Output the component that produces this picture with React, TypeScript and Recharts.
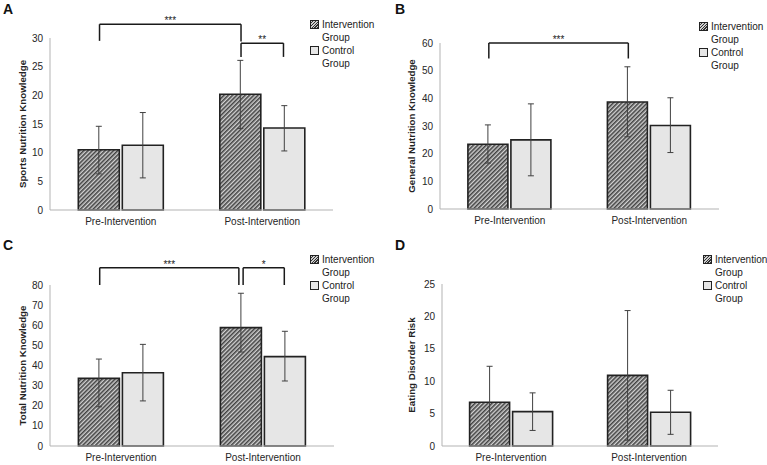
import React from 'react'
import { BarChart, Bar, XAxis, YAxis, ErrorBar, ReferenceLine } from 'recharts'

const categories = ['Pre-Intervention', 'Post-Intervention']
const seriesNames = ['Intervention Group', 'Control Group']

// A - sports nutrition knowledge
const sportsIntervention = [10.5, 20.2]
const sportsInterventionErr = [[4.2, 4.1], [6.0, 5.9]]
const sportsControl = [11.3, 14.3]
const sportsControlErr = [[5.7, 5.7], [4.0, 3.9]]
const sportsTicks = [0, 5, 10, 15, 20, 25, 30]

// B - general nutrition knowledge
const generalIntervention = [23.4, 38.7]
const generalInterventionErr = [[6.8, 7.0], [12.6, 12.7]]
const generalControl = [25.0, 30.2]
const generalControlErr = [[13.0, 13.0], [9.8, 10.0]]
const generalTicks = [0, 10, 20, 30, 40, 50, 60]

// C - total nutrition knowledge
const totalIntervention = [33.6, 58.8]
const totalInterventionErr = [[14.1, 9.6], [12.1, 17.1]]
const totalControl = [36.4, 44.4]
const totalControlErr = [[14.0, 14.1], [12.1, 12.6]]
const totalTicks = [0, 10, 20, 30, 40, 50, 60, 70, 80]

// D - eating disorder risk
const edIntervention = [6.75, 10.9]
const edInterventionErr = [[5.55, 5.55], [10.0, 10.0]]
const edControl = [5.3, 5.2]
const edControlErr = [[2.9, 2.9], [3.4, 3.4]]
const edTicks = [0, 5, 10, 15, 20, 25]

// significance brackets: [category, series] ends, heights in axis units
const sportsBrackets = [
  { from: [0, 0], to: [1, 0], top: 32.4, leg1: 29.5, leg2: 29.4, label: '***' },
  { from: [1, 0], to: [1, 1], top: 29.1, leg1: 26.7, leg2: 26.7, label: '**' },
]
const generalBrackets = [
  { from: [0, 0], to: [1, 0], top: 60, leg1: 54.4, leg2: 54.4, label: '***' },
]
const totalBrackets = [
  { from: [0, 0], to: [1, 0], top: 88.6, leg1: 80, leg2: 80, label: '***', nudge2: -0.02 },
  { from: [1, 0], to: [1, 1], top: 88.6, leg1: 80, leg2: 80, label: '*', nudge1: 0.01 },
]

const FONT = "'Liberation Sans', Arial, sans-serif"
const CAT_GAP = 0.2
const INT_CENTER = CAT_GAP + (1 - 2 * CAT_GAP) / 4

// position along a hidden numeric axis running 0..2 across the two categories
const slot = (end: number[], nudge = 0) => end[0] + (end[1] === 0 ? INT_CENTER : 1 - INT_CENTER) + nudge

const panels = [
  {
    letter: 'A', yLabel: 'Sports Nutrition Knowledge',
    int: sportsIntervention, intErr: sportsInterventionErr, ctl: sportsControl, ctlErr: sportsControlErr,
    ticks: sportsTicks, brackets: sportsBrackets,
    left: 0, top: 0, width: 380, height: 230,
    margin: { top: 38, right: 47, bottom: 0, left: 0 }, yWidth: 50, xHeight: 20, labelOffset: 23,
    letterPos: [3, 1], legendPos: [310, 24],
  },
  {
    letter: 'B', yLabel: 'General Nutrition Knowledge',
    int: generalIntervention, intErr: generalInterventionErr, ctl: generalControl, ctlErr: generalControlErr,
    ticks: generalTicks, brackets: generalBrackets,
    left: 380, top: 0, width: 387, height: 230,
    margin: { top: 43, right: 48, bottom: 0, left: 0 }, yWidth: 60, xHeight: 21, labelOffset: 32,
    letterPos: [15, 1], legendPos: [319, 26],
  },
  {
    letter: 'C', yLabel: 'Total Nutrition Knowledge',
    int: totalIntervention, intErr: totalInterventionErr, ctl: totalControl, ctlErr: totalControlErr,
    ticks: totalTicks, brackets: totalBrackets,
    left: 0, top: 230, width: 380, height: 235,
    margin: { top: 55, right: 46, bottom: 0, left: 0 }, yWidth: 50, xHeight: 19, labelOffset: 23,
    letterPos: [3, 7], legendPos: [310, 29],
  },
  {
    letter: 'D', yLabel: 'Eating Disorder Risk',
    int: edIntervention, intErr: edInterventionErr, ctl: edControl, ctlErr: edControlErr,
    ticks: edTicks, brackets: [],
    left: 380, top: 230, width: 387, height: 235,
    margin: { top: 54, right: 49, bottom: 0, left: 0 }, yWidth: 62, xHeight: 19, labelOffset: 32,
    letterPos: [15, 7], legendPos: [323, 29],
  },
]

const HATCH_CSS = 'repeating-linear-gradient(135deg, #cfcfcf 0px, #cfcfcf 1px, #333 1px, #333 2px)'

function LegendBox({ x, y }: { x: number; y: number }) {
  return (
    <div style={{ position: 'absolute', left: x, top: y - 6.5, fontFamily: FONT, fontSize: 10, lineHeight: '13px', color: '#222' }}>
      {seriesNames.map((name, i) => (
        <div key={name} style={{ display: 'flex', alignItems: 'flex-start' }}>
          <div style={{
            width: 7, height: 7, marginTop: 2.5, marginRight: 3, border: '1px solid #222',
            background: i === 0 ? HATCH_CSS : '#e6e6e6', boxSizing: 'content-box',
          }} />
          <div style={{ width: 56 }}>{name}</div>
        </div>
      ))}
    </div>
  )
}

function Panel({ cfg }: { cfg: any }) {
  const data = categories.map((name, i) => ({
    name,
    pos: i,
    int: cfg.int[i],
    intErr: cfg.intErr[i],
    ctl: cfg.ctl[i],
    ctlErr: cfg.ctlErr[i],
  }))
  const hatchId = `hatch-${cfg.letter}`
  const yMax = cfg.ticks[cfg.ticks.length - 1]

  return (
    <div style={{ position: 'absolute', left: cfg.left, top: cfg.top, width: cfg.width, height: cfg.height }}>
      <BarChart width={cfg.width} height={cfg.height} data={data} margin={cfg.margin} barCategoryGap="20%" barGap={3}>
        <defs>
          <pattern id={hatchId} patternUnits="userSpaceOnUse" width={3} height={3} patternTransform="rotate(45)">
            <rect width={3} height={3} fill="#d2d2d2" />
            <line x1={0.8} y1={0} x2={0.8} y2={3} stroke="#3c3c3c" strokeWidth={1.5} />
          </pattern>
        </defs>
        <XAxis
          dataKey="name"
          height={cfg.xHeight}
          axisLine={{ stroke: '#b3b3b3' }}
          tickLine={false}
          tick={{ fontSize: 10, fill: '#262626', fontFamily: FONT }}
        />
        <XAxis xAxisId="pos" dataKey="pos" type="number" domain={[0, 2]} hide allowDataOverflow height={0} />
        <YAxis
          width={cfg.yWidth}
          domain={[0, yMax]}
          ticks={cfg.ticks}
          interval={0}
          axisLine={{ stroke: '#b3b3b3' }}
          tickLine={false}
          tickSize={5}
          tick={{ fontSize: 10, fill: '#262626', fontFamily: FONT }}
          label={{
            value: cfg.yLabel, angle: -90, position: 'insideLeft', offset: cfg.labelOffset,
            style: { textAnchor: 'middle', fontSize: 9.7, fontWeight: 'bold', fill: '#222', fontFamily: FONT },
          }}
        />
        <Bar dataKey="int" fill={`url(#${hatchId})`} stroke="#222" strokeWidth={1.6} isAnimationActive={false}>
          <ErrorBar dataKey="intErr" width={3} stroke="#404040" strokeWidth={1} direction="y" isAnimationActive={false} />
        </Bar>
        <Bar dataKey="ctl" fill="#e6e6e6" stroke="#222" strokeWidth={1.6} isAnimationActive={false}>
          <ErrorBar dataKey="ctlErr" width={3} stroke="#404040" strokeWidth={1} direction="y" isAnimationActive={false} />
        </Bar>
        {cfg.brackets.map((b: any, i: number) => {
          const x1 = slot(b.from, b.nudge1 || 0)
          const x2 = slot(b.to, b.nudge2 || 0)
          const common = { xAxisId: 'pos', stroke: '#1a1a1a', strokeWidth: 1.5, ifOverflow: 'visible' as const }
          return [
            <ReferenceLine key={`l${i}`} {...common} segment={[{ x: x1, y: b.leg1 }, { x: x1, y: b.top }]} />,
            <ReferenceLine
              key={`t${i}`}
              {...common}
              segment={[{ x: x1, y: b.top }, { x: x2, y: b.top }]}
              label={{ value: b.label, position: 'top', offset: 0, fontSize: 10, fill: '#222', fontFamily: FONT }}
            />,
            <ReferenceLine key={`r${i}`} {...common} segment={[{ x: x2, y: b.top }, { x: x2, y: b.leg2 }]} />,
          ]
        })}
      </BarChart>
      <div style={{
        position: 'absolute', left: cfg.letterPos[0], top: cfg.letterPos[1],
        fontFamily: FONT, fontWeight: 'bold', fontSize: 14, color: '#111',
      }}>
        {cfg.letter}
      </div>
      <LegendBox x={cfg.legendPos[0]} y={cfg.legendPos[1]} />
    </div>
  )
}

export default function App() {
  return (
    <div style={{ position: 'absolute', left: 0, top: 0, width: 767, height: 465, background: '#fff', overflow: 'hidden' }}>
      {panels.map((p) => (
        <Panel key={p.letter} cfg={p} />
      ))}
    </div>
  )
}
